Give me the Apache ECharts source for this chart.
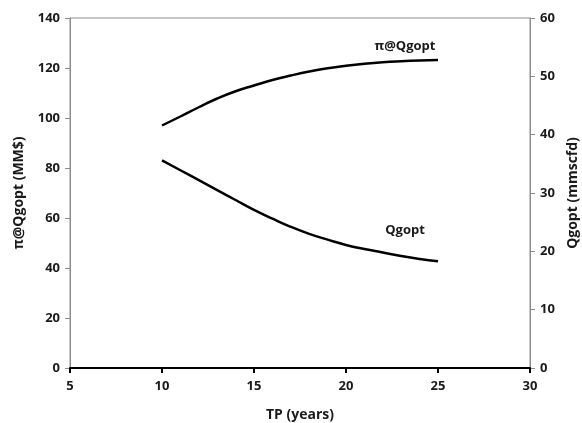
<!DOCTYPE html>
<html>
<head>
<meta charset="utf-8">
<script src="https://cdn.jsdelivr.net/npm/echarts@6/dist/echarts.min.js"></script>
<style>
  html, body { margin: 0; padding: 0; background: #fff; }
  #chart { width: 582px; height: 423px; }
</style>
</head>
<body>
<div id="chart"></div>
<script>
// Planning horizon TP (years)
const years = [10, 11, 12, 13, 14, 15, 16, 17, 18, 19, 20, 21, 22, 23, 24, 25];
// Profit at the optimal gas rate, MM$ (left axis)
const profit = [97.0, 100.6, 104.3, 107.8, 110.7, 113.0, 115.2, 117.0, 118.6, 119.9, 120.9, 121.7, 122.3, 122.7, 123.0, 123.2];
// Optimal gas rate, mmscfd (right axis)
const rate = [35.6, 33.9, 32.2, 30.5, 28.8, 27.1, 25.6, 24.2, 23.0, 22.0, 21.1, 20.4, 19.8, 19.2, 18.7, 18.3];

const font = '"Open Sans", "DejaVu Sans", sans-serif';
const txt = { color: '#1a1a1a', fontFamily: font, fontWeight: 'bold', fontSize: 13 };

function pairs(ys) { return years.map((x, i) => [x, ys[i]]); }

// Series names are drawn next to the last point of each curve
const profitData = pairs(profit);
profitData[profitData.length - 1] = {
  value: profitData[profitData.length - 1],
  label: { show: true, formatter: 'π@Qgopt', position: 'top', offset: [-33, -2], ...txt }
};
const rateData = pairs(rate);
rateData[rateData.length - 1] = {
  value: rateData[rateData.length - 1],
  label: { show: true, formatter: 'Qgopt', position: 'top', offset: [-33, -19], ...txt }
};

const chart = echarts.init(document.getElementById('chart'), null, { renderer: 'canvas' });
chart.setOption({
  animation: false,
  grid: {
    left: 70, right: 52, top: 18, bottom: 55,
    outerBoundsMode: 'none',
    show: true, borderColor: '#8c8c8c', borderWidth: 1, backgroundColor: 'transparent'
  },
  xAxis: {
    type: 'value', min: 5, max: 30, interval: 5,
    name: 'TP (years)', nameLocation: 'middle', nameGap: 40,
    nameTextStyle: { ...txt, fontSize: 14 },
    axisLine: { show: true, onZero: false, lineStyle: { color: '#000', width: 2 } },
    axisTick: { show: true, inside: false, length: 5, lineStyle: { color: '#000', width: 2 } },
    axisLabel: { ...txt, margin: 12 },
    splitLine: { show: false }
  },
  yAxis: [
    {
      type: 'value', min: 0, max: 140, interval: 20, position: 'left',
      name: 'π@Qgopt (MM$)', nameLocation: 'middle', nameGap: 44, nameRotate: 90,
      nameTextStyle: { ...txt, fontSize: 14 },
      axisLine: { show: true, lineStyle: { color: '#8c8c8c', width: 1 } },
      axisTick: { show: true, length: 5, lineStyle: { color: '#8c8c8c' } },
      axisLabel: { ...txt, margin: 10 },
      splitLine: { show: false }
    },
    {
      type: 'value', min: 0, max: 60, interval: 10, position: 'right',
      name: 'Qgopt (mmscfd)', nameLocation: 'middle', nameGap: 33, nameRotate: 90,
      nameTextStyle: { ...txt, fontSize: 14 },
      axisLine: { show: true, lineStyle: { color: '#8c8c8c', width: 1 } },
      axisTick: { show: true, length: 5, lineStyle: { color: '#8c8c8c' } },
      axisLabel: { ...txt, margin: 10 },
      splitLine: { show: false }
    }
  ],
  series: [
    {
      name: 'π@Qgopt', type: 'line', yAxisIndex: 0, data: profitData,
      smooth: true, showSymbol: true, symbol: 'circle', symbolSize: 0,
      lineStyle: { color: '#000', width: 2.5 }, itemStyle: { color: '#000' }
    },
    {
      name: 'Qgopt', type: 'line', yAxisIndex: 1, data: rateData,
      smooth: true, showSymbol: true, symbol: 'circle', symbolSize: 0,
      lineStyle: { color: '#000', width: 2.5 }, itemStyle: { color: '#000' }
    }
  ]
});
</script>
</body>
</html>
